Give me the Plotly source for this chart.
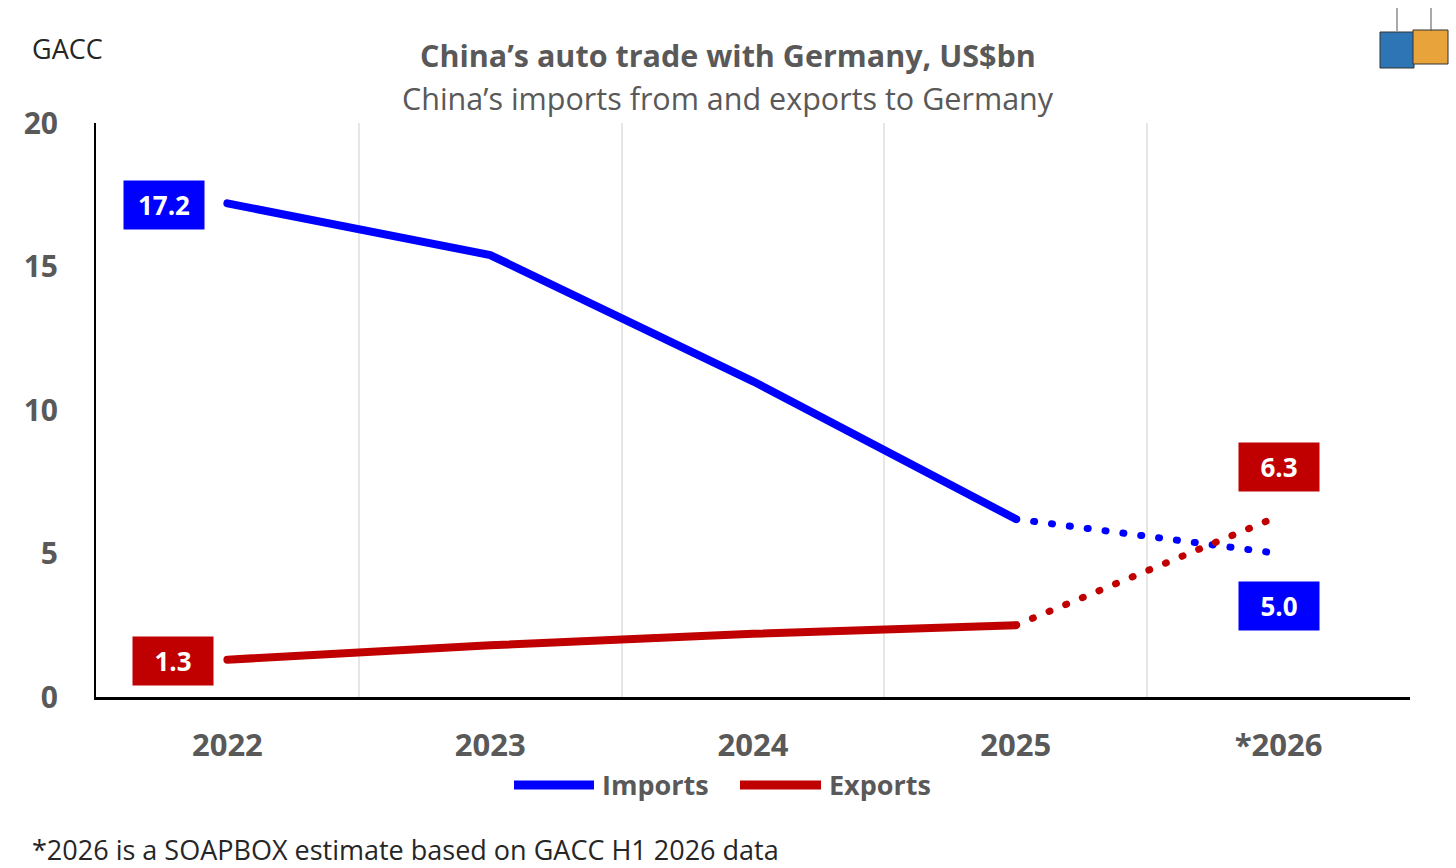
import plotly.graph_objects as go

# China's auto trade with Germany, US$bn (GACC; 2026 is an estimate)
years = ["2022", "2023", "2024", "2025", "*2026"]
imports = [17.2, 15.4, 11.0, 6.2, 5.0]
exports = [1.3, 1.8, 2.2, 2.5, 6.3]
series_names = ["Imports", "Exports"]

BLUE = "#0000FF"
RED = "#C00000"
GREY = "#595959"
FONT = "Open Sans"

W, H = 1456, 868
L, R, T, B = 96, 46, 123, 171


def px(x, y):
    # pixel position -> paper coordinates
    return (x - L) / (W - L - R), (H - B - y) / (H - T - B)


def text_at(x, y, text, size, color, anchor="center", bold=False):
    a, b = px(x, y)
    fig.add_annotation(xref="paper", yref="paper", x=a, y=b, xanchor=anchor, yanchor="middle",
                       text=text, showarrow=False,
                       font=dict(family=FONT, size=size, color=color,
                                 weight="bold" if bold else "normal"))


fig = go.Figure()

# solid part: actual data
fig.add_trace(go.Scatter(x=years[:4], y=imports[:4], mode="lines", name=series_names[0],
                         line=dict(color=BLUE, width=8)))
fig.add_trace(go.Scatter(x=years[:4], y=exports[:4], mode="lines", name=series_names[1],
                         line=dict(color=RED, width=8)))
# dotted part: estimate (round caps turn the short dashes into dots)
fig.add_trace(go.Scatter(x=years[3:], y=imports[3:], mode="lines",
                         line=dict(color=BLUE, width=7, dash="1px,17px")))
fig.add_trace(go.Scatter(x=years[3:], y=exports[3:], mode="lines",
                         line=dict(color=RED, width=7, dash="1px,17px")))

# value labels (category index for x)
label_spots = [
    (0, imports[0], BLUE, -63, -2),
    (0, exports[0], RED, -54, -1),
    (4, exports[4], RED, 0, 49),
    (4, imports[4], BLUE, 0, -52),
]
for i, y, c, dx, dy in label_spots:
    fig.add_annotation(x=i, y=y, text=f"{y:.1f}", showarrow=False,
                       xshift=dx, yshift=dy, bgcolor=c, width=70, height=38,
                       borderpad=5, font=dict(family=FONT, size=26, color="white", weight="bold"))

# title, subtitle, source, footnote
text_at(728, 55, "China’s auto trade with Germany, US$bn", 30.5, GREY, bold=True)
text_at(728, 98, "China’s imports from and exports to Germany", 30.5, GREY)
text_at(30, 48, "GACC", 27, "#262626", anchor="left")
text_at(30, 849, "*2026 is a SOAPBOX estimate based on GACC H1 2026 data", 27, "#262626", anchor="left")

# legend drawn by hand so the line keys are as long as in the original
for (x0, x1, tx), name, c in [((514, 594, 600), series_names[0], BLUE),
                              ((740, 821, 827), series_names[1], RED)]:
    a0, b = px(x0, 785)
    a1, _ = px(x1, 785)
    fig.add_shape(type="line", xref="paper", yref="paper", x0=a0, x1=a1, y0=b, y1=b,
                  line=dict(color=c, width=9))
    text_at(tx, 784, name, 27, GREY, anchor="left", bold=True)

# rough stand-in for the container logo
for (x0, y0, x1, y1), c in [((1380, 32, 1414, 68), "#2E75B6"), ((1413, 30, 1448, 64), "#E8A33A")]:
    a0, b1 = px(x0, y0)
    a1, b0 = px(x1, y1)
    fig.add_shape(type="rect", xref="paper", yref="paper", x0=a0, y0=b0, x1=a1, y1=b1,
                  fillcolor=c, line=dict(color="#333333", width=1))
for x in (1397, 1431):
    a, b0 = px(x, 8)
    _, b1 = px(x, 31)
    fig.add_shape(type="line", xref="paper", yref="paper", x0=a, x1=a, y0=b0, y1=b1,
                  line=dict(color="#555555", width=1))

fig.update_layout(
    width=W, height=H,
    margin=dict(l=L, r=R, t=T, b=B),
    plot_bgcolor="white", paper_bgcolor="white",
    font=dict(family=FONT, color=GREY),
    showlegend=False,
    xaxis=dict(type="category", range=[-0.5, 4.5], tickson="boundaries",
               showgrid=True, gridcolor="#E6E6E6", gridwidth=2, ticks="",
               showline=True, linecolor="black", linewidth=3,
               tickfont=dict(family=FONT, size=31, color=GREY, weight="bold"),
               ticklabelstandoff=19),
    yaxis=dict(range=[0, 20], tickvals=[0, 5, 10, 15, 20], showgrid=False, zeroline=False,
               showline=True, linecolor="black", linewidth=2, ticks="",
               tickfont=dict(family=FONT, size=30, color=GREY, weight="bold"),
               ticklabelstandoff=30),
)

page_fix = """
document.body.style.margin = '0';
var st = document.createElement('style');
st.textContent = '.scatterlayer .js-line { stroke-linecap: round; }';
document.head.appendChild(st);
"""
fig.write_html("out.html", config={"displayModeBar": False}, post_script=page_fix)
